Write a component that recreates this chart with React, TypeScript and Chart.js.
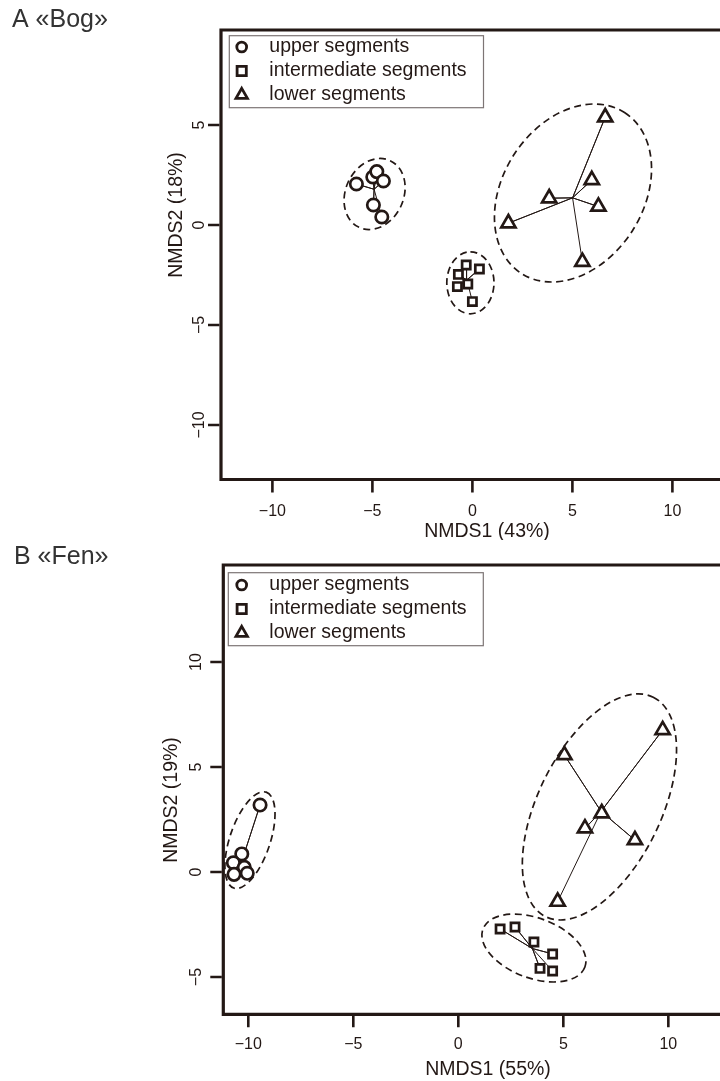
import React, { useEffect, useRef } from 'react';
import { Chart, registerables } from 'chart.js';

Chart.register(...registerables);

const INK = '#231815';
const FONT = '"Liberation Sans", Arial, Helvetica, sans-serif';

// ---------- shared labels ----------
const groupNames = ['upper segments', 'intermediate segments', 'lower segments'];
const xTickValues = [-10, -5, 0, 5, 10];
const bogYTickValues = [-10, -5, 0, 5];
const fenYTickValues = [-5, 0, 5, 10];

// ---------- A «Bog» ----------
const bogUpperX = [-5.8, -4.98, -4.78, -4.45, -4.95, -4.53];
const bogUpperY = [2.05, 2.4, 2.67, 2.2, 1.0, 0.4];
const bogInterX = [-0.31, 0.35, -0.7, -0.75, -0.23, 0.0];
const bogInterY = [-2.0, -2.2, -2.47, -3.08, -2.95, -3.83];
const bogLowerX = [6.64, 5.97, 3.84, 6.3, 1.8, 5.5];
const bogLowerY = [5.39, 2.25, 1.34, 0.92, 0.09, -1.84];
// ellipses: centre x, centre y, semi-axis a, semi-axis b, angle (deg)
const bogEllipseCX = [-4.89, -0.1, 5.03];
const bogEllipseCY = [1.55, -2.89, 1.6];
const bogEllipseA = [1.84, 1.55, 4.78];
const bogEllipseB = [1.45, 1.18, 3.52];
const bogEllipseAngle = [65, 90, 57.4];

// ---------- B «Fen» ----------
const fenUpperX = [-9.44, -10.31, -10.71, -10.19, -10.68, -10.05];
const fenUpperY = [3.19, 0.86, 0.44, 0.22, -0.11, -0.06];
const fenInterX = [1.99, 2.7, 3.6, 4.49, 3.89, 4.49];
const fenInterY = [-2.71, -2.62, -3.33, -3.9, -4.59, -4.71];
const fenLowerX = [9.73, 5.05, 6.83, 6.03, 8.41, 4.73];
const fenLowerY = [6.76, 5.57, 2.8, 2.08, 1.52, -1.41];
const fenEllipseCX = [-9.92, 3.6, 6.72];
const fenEllipseCY = [1.52, -3.62, 3.1];
const fenEllipseA = [2.41, 2.59, 5.82];
const fenEllipseB = [0.96, 1.43, 2.93];
const fenEllipseAngle = [71.3, -20.4, 63.9];

type Panel = {
  title: string;
  xTitle: string;
  yTitle: string;
  groupsX: number[][];
  groupsY: number[][];
  ell: { cx: number[]; cy: number[]; a: number[]; b: number[]; ang: number[] };
  yTicks: number[];
  xMin: number; xMax: number; yMin: number; yMax: number;
  top: number;
  height: number;
  padding: { left: number; top: number; right: number; bottom: number };
  layout: {
    labelX: number; labelY: number;
    xTitleX: number; xTitleY: number; xTickLabelY: number;
    yTitleX: number; yTitleY: number; yTickLabelX: number;
    legL: number; legT: number; legR: number; legB: number;
    symX: number; textX: number; rowY: number[];
  };
};

const bogPanel: Panel = {
  title: 'A «Bog»',
  xTitle: 'NMDS1 (43%)',
  yTitle: 'NMDS2 (18%)',
  groupsX: [bogUpperX, bogInterX, bogLowerX],
  groupsY: [bogUpperY, bogInterY, bogLowerY],
  ell: { cx: bogEllipseCX, cy: bogEllipseCY, a: bogEllipseA, b: bogEllipseB, ang: bogEllipseAngle },
  yTicks: bogYTickValues,
  xMin: -12.57, xMax: 12.38, yMin: -12.725, yMax: 9.75,
  top: 0,
  height: 540,
  padding: { left: 221, top: 30, right: 0, bottom: 60.5 },
  layout: {
    labelX: 12, labelY: 27.3,
    xTitleX: 487, xTitleY: 532, xTickLabelY: 512,
    yTitleX: 177, yTitleY: 215, yTickLabelX: 200,
    legL: 229.3, legT: 35.7, legR: 483.5, legB: 107.7,
    symX: 241.7, textX: 269.3, rowY: [47, 71, 95],
  },
};

const fenPanel: Panel = {
  title: 'B «Fen»',
  xTitle: 'NMDS1 (55%)',
  yTitle: 'NMDS2 (19%)',
  groupsX: [fenUpperX, fenInterX, fenLowerX],
  groupsY: [fenUpperY, fenInterY, fenLowerY],
  ell: { cx: fenEllipseCX, cy: fenEllipseCY, a: fenEllipseA, b: fenEllipseB, ang: fenEllipseAngle },
  yTicks: fenYTickValues,
  xMin: -11.19, xMax: 12.46, yMin: -6.775, yMax: 14.62,
  top: 540,
  height: 541,
  padding: { left: 223.3, top: 25, right: 0, bottom: 66.7 },
  layout: {
    labelX: 14, labelY: 24.3,
    xTitleX: 488, xTitleY: 530, xTickLabelY: 505,
    yTitleX: 172, yTitleY: 260, yTickLabelX: 197,
    legL: 228.3, legT: 32.7, legR: 483.3, legB: 105.7,
    symX: 241.7, textX: 269.3, rowY: [45, 69, 93],
  },
};

const pointStyles = ['circle', 'rect', 'triangle'];
const pointRadii = [6.2, 5.8, 8.2];

const fmt = (v: number) => (v < 0 ? '\u2212' + Math.abs(v) : String(v));

function drawSymbol(ctx: CanvasRenderingContext2D, kind: number, x: number, y: number) {
  ctx.beginPath();
  if (kind === 0) {
    ctx.arc(x, y, 4.9, 0, Math.PI * 2);
  } else if (kind === 1) {
    ctx.rect(x - 4.6, y - 4.6, 9.2, 9.2);
  } else {
    const r = 6.6;
    ctx.moveTo(x, y - r);
    ctx.lineTo(x + r * 0.866, y + r / 2);
    ctx.lineTo(x - r * 0.866, y + r / 2);
    ctx.closePath();
  }
  ctx.stroke();
}

function makePlugin(p: Panel) {
  return {
    id: 'nmdsDecor',
    beforeDatasetsDraw(chart: any) {
      const { ctx, scales } = chart;
      const xs = scales.x;
      const ys = scales.y;
      ctx.save();
      ctx.strokeStyle = INK;
      ctx.lineWidth = 1.7;
      ctx.setLineDash([7, 4.5]);
      for (let i = 0; i < p.ell.cx.length; i++) {
        const cx = xs.getPixelForValue(p.ell.cx[i]);
        const cy = ys.getPixelForValue(p.ell.cy[i]);
        const ra = Math.abs(xs.getPixelForValue(p.ell.cx[i] + p.ell.a[i]) - cx);
        const rb = Math.abs(ys.getPixelForValue(p.ell.cy[i] + p.ell.b[i]) - cy);
        ctx.beginPath();
        ctx.ellipse(cx, cy, ra, rb, (-p.ell.ang[i] * Math.PI) / 180, 0, Math.PI * 2);
        ctx.stroke();
      }
      ctx.restore();
    },
    afterDraw(chart: any) {
      const { ctx, chartArea: ca, scales } = chart;
      const xs = scales.x;
      const ys = scales.y;
      const L = p.layout;
      ctx.save();
      // plot frame (its right side lies outside the visible picture)
      ctx.strokeStyle = INK;
      ctx.lineWidth = 3.2;
      ctx.beginPath();
      ctx.moveTo(ca.right + 10, ca.top);
      ctx.lineTo(ca.left, ca.top);
      ctx.lineTo(ca.left, ca.bottom);
      ctx.lineTo(ca.right + 10, ca.bottom);
      ctx.stroke();
      // ticks
      ctx.lineWidth = 2.6;
      ctx.beginPath();
      xTickValues.forEach((v) => {
        const px = xs.getPixelForValue(v);
        ctx.moveTo(px, ca.bottom + 1.5);
        ctx.lineTo(px, ca.bottom + 13);
      });
      p.yTicks.forEach((v) => {
        const py = ys.getPixelForValue(v);
        ctx.moveTo(ca.left - 1.5, py);
        ctx.lineTo(ca.left - 13, py);
      });
      ctx.stroke();
      // tick labels
      ctx.fillStyle = INK;
      ctx.font = `16px ${FONT}`;
      ctx.textAlign = 'center';
      ctx.textBaseline = 'middle';
      xTickValues.forEach((v) => {
        ctx.fillText(fmt(v), xs.getPixelForValue(v), L.xTickLabelY);
      });
      p.yTicks.forEach((v) => {
        const py = ys.getPixelForValue(v);
        ctx.save();
        ctx.translate(L.yTickLabelX, py);
        ctx.rotate(-Math.PI / 2);
        ctx.fillText(fmt(v), 0, 0);
        ctx.restore();
      });
      // axis titles
      ctx.font = `19.5px ${FONT}`;
      ctx.fillText(p.xTitle, L.xTitleX, L.xTitleY);
      ctx.save();
      ctx.translate(L.yTitleX, L.yTitleY);
      ctx.rotate(-Math.PI / 2);
      ctx.fillText(p.yTitle, 0, 0);
      ctx.restore();
      // panel label
      ctx.fillStyle = '#333333';
      ctx.font = `25px ${FONT}`;
      ctx.textAlign = 'left';
      ctx.textBaseline = 'alphabetic';
      ctx.fillText(p.title, L.labelX, L.labelY);
      // legend
      ctx.fillStyle = '#ffffff';
      ctx.fillRect(L.legL, L.legT, L.legR - L.legL, L.legB - L.legT);
      ctx.strokeStyle = '#7d7575';
      ctx.lineWidth = 1.2;
      ctx.strokeRect(L.legL, L.legT, L.legR - L.legL, L.legB - L.legT);
      ctx.strokeStyle = INK;
      ctx.lineWidth = 2.8;
      ctx.fillStyle = INK;
      ctx.font = `19.5px ${FONT}`;
      ctx.textBaseline = 'middle';
      groupNames.forEach((name, i) => {
        drawSymbol(ctx, i, L.symX, L.rowY[i]);
        ctx.fillText(name, L.textX, L.rowY[i]);
      });
      ctx.restore();
    },
  };
}

function buildDatasets(p: Panel) {
  const pointSets = p.groupsX.map((gx, g) => ({
    label: groupNames[g],
    data: gx.map((x, i) => ({ x, y: p.groupsY[g][i] })),
    pointStyle: pointStyles[g],
    pointRadius: pointRadii[g],
    pointBorderWidth: 2.7,
    pointBorderColor: INK,
    pointBackgroundColor: '#ffffff',
    showLine: false,
  }));
  const spiderSets = p.groupsX.map((gx, g) => {
    const gy = p.groupsY[g];
    const mx = gx.reduce((s, v) => s + v, 0) / gx.length;
    const my = gy.reduce((s, v) => s + v, 0) / gy.length;
    const data: { x: number; y: number }[] = [];
    gx.forEach((x, i) => {
      data.push({ x: mx, y: my });
      data.push({ x, y: gy[i] });
    });
    return {
      label: 'spider ' + groupNames[g],
      data,
      showLine: true,
      borderColor: INK,
      borderWidth: 1,
      pointRadius: 0,
      tension: 0,
    };
  });
  // earlier datasets are drawn on top
  return [...pointSets, ...spiderSets];
}

function PanelChart({ p }: { p: Panel }) {
  const ref = useRef<HTMLCanvasElement | null>(null);
  useEffect(() => {
    if (!ref.current) return;
    const chart = new Chart(ref.current, {
      type: 'scatter',
      data: { datasets: buildDatasets(p) as any },
      options: {
        responsive: false,
        animation: false,
        devicePixelRatio: 1,
        layout: { padding: p.padding, autoPadding: false },
        plugins: { legend: { display: false }, tooltip: { enabled: false } },
        scales: {
          x: { type: 'linear', display: false, min: p.xMin, max: p.xMax },
          y: { type: 'linear', display: false, min: p.yMin, max: p.yMax },
        },
      },
      plugins: [makePlugin(p)],
    });
    return () => chart.destroy();
  }, [p]);
  return (
    <canvas
      ref={ref}
      width={720}
      height={p.height}
      style={{ position: 'absolute', left: 0, top: p.top, width: '720px', height: p.height + 'px' }}
    />
  );
}

export default function App() {
  return (
    <div
      style={{
        position: 'absolute',
        left: 0,
        top: 0,
        width: 720,
        height: 1081,
        overflow: 'hidden',
        background: '#ffffff',
      }}
    >
      <PanelChart p={bogPanel} />
      <PanelChart p={fenPanel} />
    </div>
  );
}
